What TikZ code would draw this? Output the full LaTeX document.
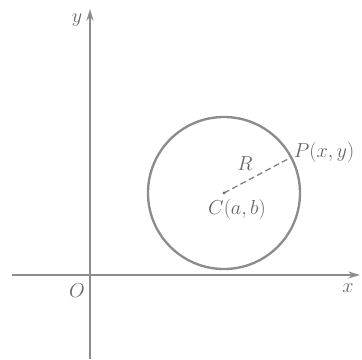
\documentclass[tikz,border=0pt]{standalone}
\usepackage{amsmath}
\usepackage{tikz}
\usetikzlibrary{arrows.meta,calc}

\begin{document}
\begin{tikzpicture}[x=0.03cm,y=0.03cm,line width=2pt,
  axis/.style={draw=black!45,-{Stealth[length=10pt,width=6pt]}},
  lbl/.style={text=black!60,font=\fontsize{19}{23}\selectfont}]

\useasboundingbox (-90,-84) rectangle (272,275);

\coordinate (O) at (0,0);
\coordinate (C) at (134,82);
\coordinate (P) at ($(C)+(28:76)$);

\draw [axis] (-78,0) -- (270,0);
\draw [axis] (0,-84) -- (0,266);

\draw [draw=black!45] (C) circle (76);
\draw [draw=black!50,line width=1.1pt,dash pattern=on 5pt off 3pt] (C) -- (P);
\fill [black!55] (C) circle (1.6);

\node [lbl] (ylabel) at (-13,255) {$y$};
\node [lbl] (olabel) at (-13,-16) {$O$};
\node [lbl] (xlabel) at (258,-13) {$x$};
\node [lbl] (rlabel) at (155,111) {$R$};
\node [lbl] (clabel) at (147,66) {$C(a,b)$};
\node [lbl,anchor=west,inner sep=0.5pt,font=\fontsize{17}{20}\selectfont] (plabel) at ($(P)+(1,5)$) {$P(x,y)$};

\end{tikzpicture}
\end{document}
